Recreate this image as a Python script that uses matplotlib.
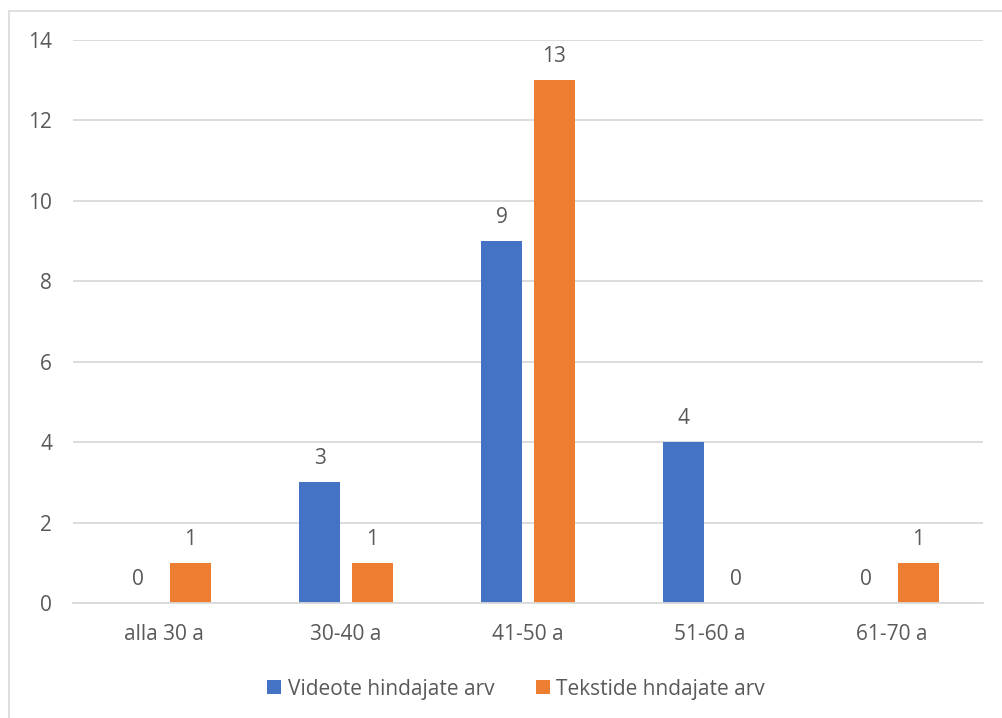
import matplotlib
matplotlib.use("Agg")
import matplotlib.pyplot as plt
from matplotlib.patches import Rectangle
import numpy as np

categories = ["alla 30 a", "30-40 a", "41-50 a", "51-60 a", "61-70 a"]
video_counts = [0, 3, 9, 4, 0]
text_counts = [1, 1, 13, 0, 1]
series_names = ["Videote hindajate arv", "Tekstide hndajate arv"]
y_ticks = [0, 2, 4, 6, 8, 10, 12, 14]

BLUE = "#4472C4"
ORANGE = "#ED7D31"
TEXT = "#595959"
GRID = "#D9D9D9"
FS = 15

plt.rcParams["font.family"] = ["Open Sans", "DejaVu Sans"]

W, H = 1003, 718
fig = plt.figure(figsize=(W / 100, H / 100), dpi=100)

# chart frame (top/left edges visible)
fig.patches.append(Rectangle((9 / W, -0.2), 1.2, 1.2 - 11 / H, transform=fig.transFigure,
                             fill=False, edgecolor="#D9D9D9", linewidth=1.2))

ax = fig.add_axes([73 / W, 1 - 603 / H, (983 - 73) / W, (603 - 40) / H])

x = np.arange(len(categories))
bw = 0.225
off = 0.143
b1 = ax.bar(x - off, video_counts, bw, color=BLUE, label=series_names[0])
b2 = ax.bar(x + off, text_counts, bw, color=ORANGE, label=series_names[1])

for bars, vals in ((b1, video_counts), (b2, text_counts)):
    for rect, v in zip(bars, vals):
        ax.annotate(str(v), (rect.get_x() + rect.get_width() / 2, v),
                    xytext=(0, 17), textcoords="offset points",
                    ha="center", va="center", fontsize=FS, color=TEXT)

ax.set_xlim(-0.5, len(categories) - 0.5)
ax.set_ylim(0, 14)
ax.set_yticks(y_ticks)
ax.set_xticks(x)
ax.set_xticklabels(categories)
ax.grid(axis="y", color=GRID, linewidth=1.3)
ax.set_axisbelow(True)
for s in ("top", "right", "left"):
    ax.spines[s].set_visible(False)
ax.spines["bottom"].set_color(GRID)
ax.spines["bottom"].set_linewidth(1.3)
ax.tick_params(axis="both", length=0, colors=TEXT, labelsize=FS)
ax.tick_params(axis="y", pad=15)
ax.tick_params(axis="x", pad=15)

leg = fig.legend(handles=[b1, b2], labels=series_names, loc="center",
                 bbox_to_anchor=(516 / W, 1 - 689 / H), ncol=2, frameon=False,
                 fontsize=FS, handlelength=0.67, handleheight=0.67,
                 handletextpad=0.3, columnspacing=2.0, labelcolor=TEXT)

fig.savefig("out.png", dpi=100)
